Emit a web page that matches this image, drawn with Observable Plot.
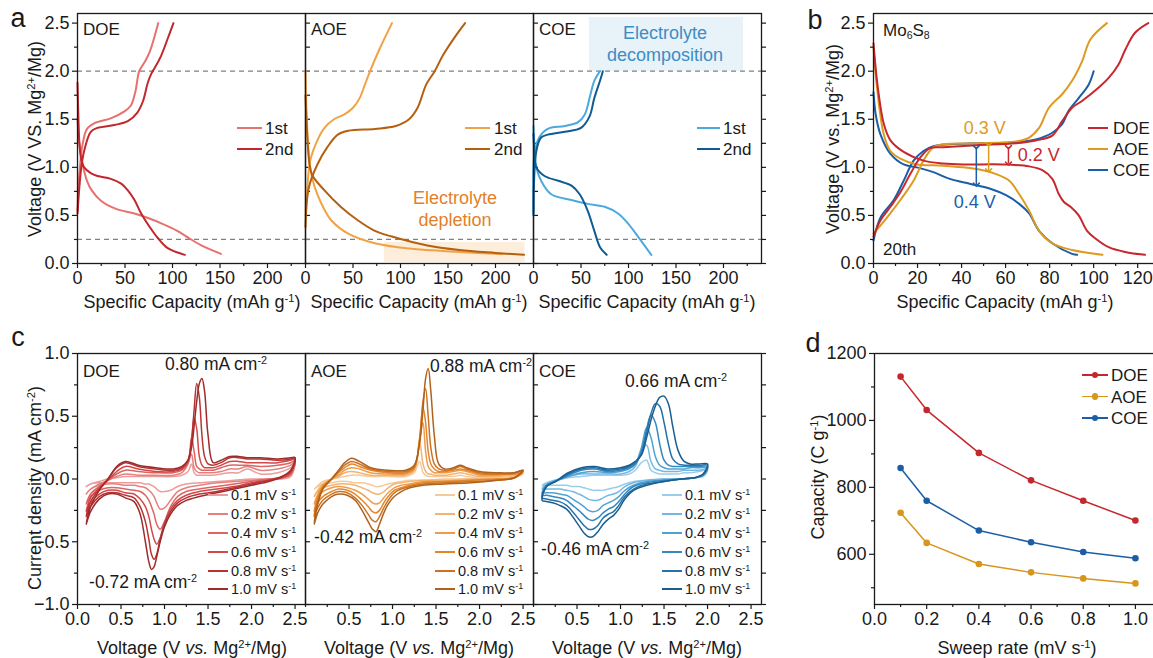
<!DOCTYPE html>
<html><head><meta charset="utf-8">
<script src="https://cdn.jsdelivr.net/npm/d3@7"></script>
<script src="https://cdn.jsdelivr.net/npm/@observablehq/plot@0.6"></script>
<style>
html,body{margin:0;padding:0;background:#fff;overflow:hidden;}
#fig{position:relative;width:1153px;height:658px;font-family:Arial,"Liberation Sans",Helvetica,sans-serif;color:#1a1a1a;overflow:hidden;background:#fff;}
.t{position:absolute;white-space:nowrap;line-height:1;}
.t sup{font-size:0.62em;vertical-align:0.55em;line-height:0;}
.t sub{font-size:0.62em;vertical-align:-0.3em;line-height:0;}
.p{position:absolute;}
.p svg{max-width:none;overflow:visible;display:block;}
.sw{position:absolute;}
</style></head><body><div id="fig"></div>
<script>
// ---------------- DATA ----------------
// Panel a: [specific capacity (mAh/g), voltage (V)]
const doeFirstDischarge = [[0,1.5],[1,1.36],[2,1.25],[5,1.05],[10,0.86],[15,0.76],[25,0.65],[40,0.57],[60,0.52],[75,0.47],[90,0.41],[105,0.34],[118,0.26],[132,0.18],[151,0.1]];
const doeSecondDischarge = [[0,1.88],[1,1.5],[2,1.25],[4,1.08],[7,1.0],[14,0.94],[21,0.91],[35,0.88],[46,0.83],[53,0.76],[60,0.66],[67,0.52],[76,0.38],[85,0.26],[95,0.16],[113,0.09]];
const doeFirstCharge = [[0,0.55],[1,0.8],[3,1.05],[5,1.22],[10,1.4],[18,1.46],[35,1.51],[49,1.58],[56,1.64],[61,1.79],[65,2.0],[71,2.1],[76,2.2],[85,2.5]];
const doeSecondCharge = [[0,0.52],[2,0.8],[4,1.0],[7,1.17],[14,1.37],[21,1.41],[39,1.44],[53,1.48],[63,1.57],[69,1.69],[74,1.88],[78,1.98],[81,2.03],[88,2.16],[95,2.34],[101,2.5]];
const aoeFirstDischarge = [[0,2.0],[1,1.6],[3,1.2],[5,1.0],[8,0.85],[12.5,0.72],[20,0.56],[27,0.45],[45,0.31],[73,0.21],[109,0.155],[162,0.12],[207,0.1]];
const aoeSecondDischarge = [[0,1.75],[2,1.3],[4,1.05],[7,0.92],[20,0.76],[37,0.59],[55,0.45],[73,0.34],[91,0.28],[127,0.19],[162,0.14],[200,0.11],[230,0.09]];
const aoeFirstCharge = [[0,0.5],[2,0.8],[5,1.07],[12.5,1.28],[20,1.41],[30,1.5],[41,1.55],[50,1.62],[57,1.72],[62.5,1.86],[68,2.0],[77,2.21],[91,2.5]];
const aoeSecondCharge = [[0,0.38],[3.5,0.79],[12.5,1.03],[23,1.21],[34,1.34],[45,1.38],[73,1.4],[95,1.43],[109,1.5],[118,1.62],[127,1.86],[136,2.0],[145,2.17],[159,2.38],[168,2.5]];
const coeFirstDischarge = [[0,1.43],[1,1.2],[3,1.0],[8,0.86],[18.6,0.72],[40,0.66],[57,0.62],[75,0.59],[89,0.52],[100,0.41],[110,0.28],[124,0.09]];
const coeSecondDischarge = [[0,1.35],[1,1.15],[3,1.0],[11.6,0.91],[26,0.86],[40,0.81],[48.6,0.72],[57,0.55],[64,0.34],[70,0.17],[77,0.09]];
const coeFirstCharge = [[0,0.53],[1,1.14],[6,1.31],[15,1.4],[33,1.43],[47,1.47],[54,1.55],[59,1.72],[64,1.9],[70,2.0]];
const coeSecondCharge = [[0,0.5],[3,1.17],[8,1.31],[15,1.34],[33,1.37],[50,1.41],[59,1.53],[64,1.72],[70,1.9],[73,2.0]];
const aGuideVoltages = [2.0, 0.25];
const depletionRegion = {cap: [83, 231], volt: [0.01, 0.22]};
const decompositionRegion = {cap: [59, 221], volt: [2.0, 2.56]};

// Panel b: 20th cycle
const doe20Discharge = [[0,2.29],[1.8,1.86],[4.7,1.45],[7.7,1.28],[13.7,1.16],[22.7,1.07],[31.7,1.04],[40.7,1.03],[58.7,1.03],[70.7,1.01],[76.7,0.97],[81.2,0.88],[84.2,0.72],[86.5,0.64],[89.5,0.59],[93.2,0.5],[97,0.34],[100.8,0.26],[106.8,0.17],[114.3,0.12],[123.3,0.09]];
const doe20Charge = [[0,0.28],[3.2,0.45],[7.7,0.59],[12.2,0.74],[16.7,0.93],[21.2,1.1],[25.7,1.2],[31.7,1.21],[46.7,1.23],[64.7,1.25],[73.7,1.28],[81.2,1.33],[85.7,1.48],[90.2,1.62],[94.7,1.69],[102.3,1.83],[106.8,1.93],[111.3,2.07],[114.3,2.22],[118.8,2.4],[124.8,2.5]];
const aoe20Discharge = [[0,2.25],[1.8,1.79],[4.7,1.34],[7.7,1.17],[12.2,1.09],[19.7,1.03],[30.2,1.02],[40.7,1.0],[49.7,0.97],[55.7,0.93],[61.7,0.86],[66.2,0.72],[70.7,0.55],[75.2,0.34],[81.2,0.21],[90.2,0.14],[104,0.09]];
const aoe20Charge = [[0,0.31],[6.2,0.48],[12.2,0.66],[18.2,0.86],[22.7,1.07],[27.2,1.21],[31.7,1.24],[46.7,1.25],[64.7,1.27],[70.7,1.31],[75.2,1.41],[79.7,1.62],[85.7,1.76],[90.2,1.9],[94.7,2.1],[98.5,2.33],[106,2.5]];
const coe20Discharge = [[0,1.78],[1,1.55],[3.2,1.34],[7.7,1.14],[13.7,1.03],[19.7,1.0],[27.2,0.95],[34.7,0.88],[43.7,0.83],[52.7,0.78],[60.2,0.71],[66.2,0.62],[70.7,0.52],[75.2,0.34],[81.2,0.21],[90.2,0.1],[92.5,0.09]];
const coe20Charge = [[0,0.24],[3.2,0.48],[9.2,0.66],[13.7,0.86],[18.2,1.07],[22.7,1.17],[27.2,1.22],[34.7,1.24],[46.7,1.25],[64.7,1.26],[73.7,1.29],[81.2,1.36],[85.7,1.45],[88.7,1.59],[93.2,1.72],[97.7,1.86],[100,2.0]];
// polarization gaps [capacity, upper V, lower V, label]
const gapCOE = [46.7, 1.21, 0.82, "0.4 V"];
const gapAOE = [52.3, 1.24, 0.97, "0.3 V"];
const gapDOE = [61.3, 1.21, 1.04, "0.2 V"];

// Panel c: cyclic voltammetry; rows = sweep rates 0.1,0.2,0.4,0.6,0.8,1.0 mV/s
const cvRates = ["0.1", "0.2", "0.4", "0.6", "0.8", "1.0"];
const doeAnodicV = [0.1,0.15,0.25,0.35,0.45,0.55,0.7,0.9,1.1,1.2,1.27,1.31,1.34,1.37,1.40,1.43,1.46,1.50,1.56,1.65,1.75,1.85,1.95,2.1,2.3,2.45,2.5];
const doeAnodicI = [
 [-0.06,-0.04,-0.02,0.00,0.01,0.02,0.02,0.02,0.02,0.03,0.06,0.12,0.05,0.03,0.03,0.03,0.03,0.03,0.03,0.04,0.05,0.05,0.08,0.04,0.05,0.09,0.13],
 [-0.12,-0.08,-0.04,-0.01,0.02,0.04,0.03,0.03,0.03,0.05,0.12,0.20,0.09,0.06,0.05,0.05,0.05,0.05,0.05,0.06,0.08,0.08,0.10,0.07,0.08,0.11,0.14],
 [-0.20,-0.12,-0.06,-0.01,0.04,0.07,0.06,0.05,0.05,0.07,0.13,0.33,0.22,0.10,0.08,0.07,0.07,0.07,0.07,0.09,0.11,0.11,0.11,0.10,0.11,0.13,0.15],
 [-0.26,-0.15,-0.07,-0.01,0.06,0.10,0.08,0.06,0.06,0.08,0.14,0.30,0.49,0.40,0.18,0.11,0.09,0.09,0.09,0.11,0.14,0.14,0.13,0.13,0.13,0.15,0.16],
 [-0.30,-0.18,-0.08,0.00,0.09,0.13,0.10,0.08,0.07,0.09,0.15,0.30,0.55,0.76,0.65,0.35,0.18,0.12,0.11,0.13,0.17,0.17,0.16,0.16,0.15,0.16,0.17],
 [-0.36,-0.22,-0.09,0.00,0.10,0.14,0.11,0.09,0.08,0.10,0.15,0.25,0.42,0.62,0.76,0.80,0.70,0.35,0.13,0.15,0.18,0.18,0.17,0.17,0.16,0.17,0.17]];
const doeCathodicV = [2.45,2.35,2.2,2.0,1.8,1.6,1.4,1.25,1.15,1.07,1.0,0.95,0.91,0.88,0.85,0.82,0.78,0.72,0.65,0.55,0.45,0.35,0.25,0.15];
const doeCathodicI = [
 [0.02,0.00,0.00,0.00,-0.01,-0.02,-0.03,-0.04,-0.06,-0.09,-0.10,-0.10,-0.08,-0.06,-0.05,-0.04,-0.04,-0.03,-0.03,-0.03,-0.03,-0.03,-0.03,-0.04],
 [0.03,0.01,0.00,-0.01,-0.02,-0.03,-0.05,-0.07,-0.10,-0.17,-0.23,-0.24,-0.19,-0.14,-0.11,-0.09,-0.07,-0.06,-0.05,-0.05,-0.04,-0.04,-0.05,-0.08],
 [0.04,0.01,0.00,-0.02,-0.04,-0.06,-0.08,-0.10,-0.14,-0.22,-0.34,-0.40,-0.36,-0.28,-0.22,-0.17,-0.13,-0.10,-0.09,-0.08,-0.07,-0.07,-0.09,-0.14],
 [0.05,0.01,-0.01,-0.03,-0.06,-0.08,-0.10,-0.13,-0.17,-0.24,-0.35,-0.47,-0.52,-0.48,-0.40,-0.30,-0.22,-0.16,-0.12,-0.11,-0.09,-0.09,-0.12,-0.19],
 [0.06,0.02,-0.01,-0.04,-0.07,-0.10,-0.12,-0.15,-0.19,-0.26,-0.36,-0.48,-0.60,-0.64,-0.60,-0.48,-0.34,-0.22,-0.15,-0.13,-0.11,-0.11,-0.14,-0.22],
 [0.07,0.02,-0.02,-0.05,-0.08,-0.11,-0.14,-0.17,-0.21,-0.28,-0.38,-0.50,-0.62,-0.70,-0.72,-0.66,-0.50,-0.28,-0.18,-0.15,-0.12,-0.12,-0.16,-0.26]];
const aoeAnodicV = [0.1,0.13,0.2,0.3,0.38,0.45,0.53,0.62,0.75,0.95,1.15,1.25,1.31,1.35,1.38,1.41,1.44,1.48,1.53,1.6,1.7,1.78,1.85,2.0,2.2,2.4,2.5];
const aoeAnodicI = [
 [-0.08,-0.06,-0.02,0.00,0.01,0.02,0.03,0.03,0.02,0.02,0.02,0.05,0.14,0.05,0.03,0.02,0.02,0.02,0.02,0.02,0.02,0.03,0.02,0.01,0.01,0.02,0.04],
 [-0.14,-0.10,-0.04,0.00,0.02,0.05,0.06,0.05,0.03,0.03,0.03,0.07,0.30,0.12,0.06,0.04,0.04,0.03,0.03,0.03,0.04,0.05,0.04,0.02,0.02,0.03,0.05],
 [-0.20,-0.14,-0.05,0.00,0.03,0.07,0.09,0.08,0.05,0.04,0.04,0.08,0.30,0.45,0.22,0.10,0.07,0.05,0.05,0.05,0.06,0.07,0.06,0.03,0.03,0.04,0.06],
 [-0.26,-0.17,-0.06,0.00,0.05,0.09,0.12,0.10,0.07,0.05,0.05,0.09,0.32,0.57,0.45,0.22,0.12,0.08,0.06,0.06,0.07,0.08,0.07,0.04,0.04,0.04,0.06],
 [-0.30,-0.20,-0.07,0.00,0.06,0.11,0.14,0.12,0.08,0.06,0.06,0.10,0.30,0.62,0.72,0.50,0.25,0.12,0.08,0.07,0.08,0.10,0.08,0.05,0.04,0.05,0.07],
 [-0.36,-0.23,-0.08,0.00,0.07,0.13,0.165,0.14,0.09,0.07,0.07,0.11,0.28,0.55,0.80,0.88,0.70,0.35,0.12,0.08,0.09,0.11,0.09,0.06,0.05,0.05,0.07]];
const aoeCathodicV = [2.4,2.2,1.9,1.6,1.35,1.2,1.1,1.02,0.95,0.9,0.85,0.81,0.77,0.72,0.65,0.57,0.48,0.38,0.3,0.2,0.14];
const aoeCathodicI = [
 [0.01,0.00,0.00,0.00,-0.01,-0.01,-0.02,-0.03,-0.04,-0.05,-0.06,-0.06,-0.05,-0.04,-0.03,-0.03,-0.02,-0.02,-0.03,-0.04,-0.06],
 [0.01,0.00,0.00,-0.01,-0.01,-0.02,-0.03,-0.04,-0.07,-0.10,-0.12,-0.12,-0.11,-0.09,-0.07,-0.05,-0.04,-0.04,-0.05,-0.07,-0.10],
 [0.01,0.00,-0.01,-0.02,-0.02,-0.04,-0.05,-0.07,-0.11,-0.15,-0.19,-0.20,-0.19,-0.16,-0.12,-0.09,-0.07,-0.06,-0.07,-0.10,-0.14],
 [0.01,0.00,-0.01,-0.02,-0.03,-0.05,-0.07,-0.09,-0.14,-0.19,-0.25,-0.27,-0.26,-0.22,-0.17,-0.12,-0.09,-0.08,-0.10,-0.14,-0.19],
 [0.01,-0.01,-0.02,-0.03,-0.04,-0.06,-0.08,-0.11,-0.17,-0.23,-0.30,-0.34,-0.33,-0.28,-0.21,-0.15,-0.11,-0.10,-0.12,-0.17,-0.23],
 [0.01,-0.01,-0.03,-0.04,-0.05,-0.07,-0.10,-0.14,-0.20,-0.27,-0.36,-0.42,-0.40,-0.34,-0.25,-0.17,-0.13,-0.12,-0.14,-0.20,-0.27]];
const coeAnodicV = [0.1,0.15,0.25,0.4,0.55,0.7,0.85,1.0,1.1,1.17,1.24,1.3,1.35,1.4,1.45,1.5,1.55,1.6,1.66,1.73,1.8,1.9,2.0];
const coeAnodicI = [
 [-0.05,-0.03,-0.01,0.01,0.02,0.03,0.03,0.03,0.04,0.07,0.13,0.15,0.07,0.05,0.04,0.04,0.04,0.04,0.04,0.05,0.05,0.06,0.07],
 [-0.08,-0.04,-0.01,0.02,0.04,0.04,0.04,0.04,0.06,0.10,0.22,0.27,0.14,0.08,0.07,0.06,0.06,0.06,0.06,0.07,0.07,0.07,0.08],
 [-0.11,-0.05,-0.02,0.02,0.05,0.06,0.05,0.06,0.08,0.12,0.25,0.41,0.33,0.18,0.11,0.09,0.08,0.08,0.08,0.08,0.09,0.09,0.09],
 [-0.13,-0.05,-0.02,0.03,0.07,0.08,0.06,0.07,0.09,0.12,0.22,0.40,0.51,0.45,0.28,0.15,0.11,0.10,0.10,0.10,0.10,0.10,0.10],
 [-0.15,-0.06,-0.02,0.04,0.08,0.09,0.07,0.08,0.10,0.13,0.20,0.37,0.52,0.60,0.58,0.45,0.28,0.16,0.12,0.11,0.11,0.11,0.11],
 [-0.17,-0.06,-0.02,0.05,0.09,0.10,0.08,0.09,0.11,0.14,0.19,0.33,0.47,0.58,0.65,0.66,0.60,0.42,0.23,0.14,0.12,0.12,0.12]];
const coeCathodicV = [1.95,1.85,1.7,1.5,1.3,1.15,1.05,0.98,0.92,0.86,0.8,0.74,0.68,0.63,0.58,0.52,0.45,0.38,0.3,0.22,0.15];
const coeCathodicI = [
 [0.02,0.01,0.00,0.00,-0.01,-0.02,-0.04,-0.06,-0.07,-0.08,-0.09,-0.09,-0.09,-0.08,-0.07,-0.06,-0.06,-0.05,-0.05,-0.05,-0.05],
 [0.03,0.01,0.00,0.00,-0.01,-0.03,-0.06,-0.10,-0.12,-0.13,-0.15,-0.17,-0.17,-0.16,-0.14,-0.12,-0.10,-0.09,-0.08,-0.08,-0.08],
 [0.03,0.01,0.00,-0.01,-0.02,-0.05,-0.09,-0.14,-0.17,-0.19,-0.21,-0.25,-0.26,-0.25,-0.22,-0.19,-0.16,-0.13,-0.12,-0.11,-0.11],
 [0.03,0.01,0.00,-0.01,-0.03,-0.06,-0.12,-0.18,-0.22,-0.24,-0.27,-0.31,-0.33,-0.32,-0.29,-0.25,-0.21,-0.17,-0.15,-0.14,-0.13],
 [0.04,0.01,0.00,-0.02,-0.04,-0.08,-0.14,-0.21,-0.26,-0.28,-0.31,-0.37,-0.40,-0.40,-0.37,-0.32,-0.26,-0.21,-0.18,-0.17,-0.16],
 [0.04,0.01,0.00,-0.02,-0.05,-0.09,-0.16,-0.24,-0.29,-0.32,-0.36,-0.42,-0.46,-0.46,-0.43,-0.37,-0.30,-0.24,-0.21,-0.19,-0.18]];

// Panel d: capacity vs sweep rate
const sweepRates = [0.1, 0.2, 0.4, 0.6, 0.8, 1.0];
const capacityDOE = [1131, 1031, 903, 821, 760, 701];
const capacityAOE = [724, 634, 571, 546, 528, 513];
const capacityCOE = [858, 760, 671, 636, 607, 588];

// ---------------- STYLE ----------------
const FONT = 'Arial, "Liberation Sans", Helvetica, sans-serif';
const C = {
  doe1: "#E7716F", doe2: "#C1272C", aoe1: "#F2A246", aoe2: "#B5600F", coe1: "#4CA9DE", coe2: "#0F5B92",
  doe: "#C6282E", aoe: "#DE9A1E", coe: "#1A5EA8", dAoe: "#D8951C", dCoe: "#1B5EA6", dDoe: "#C4282C"
};
const doeCvColors = ["#EC9C9A","#E5807E","#DD6462","#D14848","#B83434","#9E2C2C"];
const aoeCvColors = ["#F6C99A","#F2B474","#EE9C4A","#E2862C","#CC7220","#B0621C"];
const coeCvColors = ["#9ACDEB","#74B8E2","#50A2D4","#3588C0","#2472A8","#1A5E90"];
const fig = document.getElementById("fig");
const f1 = d3.format(".1f");
const blank = () => "";
const range = (a, b, s) => d3.range(a, b + s / 2, s).map(v => +v.toFixed(4));

function mount(svg, left, top) {
  const d = document.createElement("div");
  d.className = "p"; d.style.left = left + "px"; d.style.top = top + "px";
  d.appendChild(svg); fig.appendChild(d);
}
function panel(o) {
  const ML = 60, MR = 14, MT = 12, MB = 36;
  const marks = [...o.marks, Plot.frame({stroke: "#1a1a1a", strokeWidth: 1.3})];
  marks.push(Plot.axisX({ticks: o.xTicks, tickSize: 5, tickPadding: 3, tickFormat: o.xFmt, label: null, fontSize: 18, strokeWidth: 1.2}));
  if (o.xMinor) marks.push(Plot.axisX({ticks: o.xMinor, tickSize: 3, tickFormat: blank, label: null, strokeWidth: 1.2}));
  if (o.yTicks) marks.push(Plot.axisY({ticks: o.yTicks, tickSize: 5, tickPadding: 3, tickFormat: o.yFmt, label: null, fontSize: 18, strokeWidth: 1.2}));
  if (o.yMinor) marks.push(Plot.axisY({ticks: o.yMinor, tickSize: 3, tickFormat: blank, label: null, strokeWidth: 1.2}));
  if (o.rightTicks) marks.push(Plot.axisY({anchor: "right", ticks: o.rightTicks, tickSize: 4, tickFormat: blank, label: null, strokeWidth: 1.2}));
  const svg = Plot.plot({
    width: o.w + ML + MR, height: o.h + MT + MB,
    marginLeft: ML, marginRight: MR, marginTop: MT, marginBottom: MB,
    x: {domain: o.xd}, y: {domain: o.yd},
    style: {background: "transparent", fontFamily: FONT, fontSize: "18px", color: "#1a1a1a", overflow: "visible"},
    marks
  });
  mount(svg, o.left - ML, o.top - MT);
}
function txt(html, x, y, o = {}) {
  const d = document.createElement("div");
  d.className = "t"; d.innerHTML = html;
  d.style.left = x + "px"; d.style.top = y + "px";
  d.style.fontSize = (o.size || 18) + "px";
  if (o.color) d.style.color = o.color;
  const ax = o.anchor === "middle" ? "-50%" : o.anchor === "end" ? "-100%" : "0";
  d.style.transform = o.rotate ? `translate(-50%,-50%) rotate(${o.rotate}deg)` : `translate(${ax},-50%)`;
  fig.appendChild(d);
}
function swatch(x1, x2, y, color, w = 2, dot = false) {
  const d = document.createElement("div");
  d.className = "sw";
  Object.assign(d.style, {left: x1 + "px", top: (y - w / 2) + "px", width: (x2 - x1) + "px", height: w + "px", background: color});
  fig.appendChild(d);
  if (dot) {
    const c = document.createElement("div");
    c.className = "sw";
    Object.assign(c.style, {left: ((x1 + x2) / 2 - 3.3) + "px", top: (y - 3.3) + "px", width: "6.6px", height: "6.6px", borderRadius: "50%", background: color});
    fig.appendChild(c);
  }
}
const curve = (arr, color, w = 2) => Plot.line(arr, {x: d => d[0], y: d => d[1], stroke: color, strokeWidth: w, curve: "catmull-rom"});

// ---------------- PANEL a ----------------
const aLeft = [77, 305, 533];
const aCommon = {top: 13, w: 228, h: 250, xd: [0, 240], yd: [0, 2.6], xTicks: range(0, 200, 50), xMinor: range(25, 225, 50), rightTicks: range(0, 2.5, 0.25)};
const guides = Plot.ruleY(aGuideVoltages, {stroke: "#808080", strokeDasharray: "5,4", strokeWidth: 1.2});
panel({...aCommon, left: aLeft[0], yTicks: range(0, 2.5, 0.5), yMinor: range(0.25, 2.25, 0.5), yFmt: f1,
  marks: [guides, curve(doeFirstDischarge, C.doe1), curve(doeFirstCharge, C.doe1), curve(doeSecondDischarge, C.doe2), curve(doeSecondCharge, C.doe2)]});
panel({...aCommon, left: aLeft[1],
  marks: [Plot.rect([depletionRegion], {x1: d => d.cap[0], x2: d => d.cap[1], y1: d => d.volt[0], y2: d => d.volt[1], fill: "#FDEEDC"}),
    guides, curve(aoeFirstDischarge, C.aoe1), curve(aoeFirstCharge, C.aoe1), curve(aoeSecondDischarge, C.aoe2), curve(aoeSecondCharge, C.aoe2)]});
panel({...aCommon, left: aLeft[2],
  marks: [Plot.rect([decompositionRegion], {x1: d => d.cap[0], x2: d => d.cap[1], y1: d => d.volt[0], y2: d => d.volt[1], fill: "#E7F2F9"}),
    guides, curve(coeFirstDischarge, C.coe1), curve(coeFirstCharge, C.coe1), curve(coeSecondDischarge, C.coe2), curve(coeSecondCharge, C.coe2)]});

// ---------------- PANEL b ----------------
const gapMarks = [[gapCOE, C.coe], [gapAOE, C.aoe], [gapDOE, C.doe]].map(([g, col]) =>
  Plot.link([g], {x1: d => d[0], x2: d => d[0], y1: d => d[1], y2: d => d[2], stroke: col, strokeWidth: 1.5, markerStart: "arrow", markerEnd: "arrow"}));
panel({left: 873, top: 13, w: 284, h: 250, xd: [0, 129], yd: [0, 2.6],
  xTicks: range(0, 120, 20), xMinor: range(10, 110, 20), yTicks: range(0, 2.5, 0.5), yMinor: range(0.25, 2.25, 0.5), yFmt: f1,
  marks: [
    curve(coe20Discharge, C.coe), curve(coe20Charge, C.coe),
    curve(aoe20Discharge, C.aoe), curve(aoe20Charge, C.aoe),
    curve(doe20Discharge, C.doe), curve(doe20Charge, C.doe),
    ...gapMarks,
    Plot.text([gapAOE], {x: d => d[0] - 1.8, y: 1.41, text: d => d[3], fill: C.aoe, fontSize: 18, textAnchor: "middle"}),
    Plot.text([gapDOE], {x: d => d[0] + 4.2, y: 1.13, text: d => d[3], fill: C.doe, fontSize: 18, textAnchor: "start"}),
    Plot.text([gapCOE], {x: d => d[0] - 0.7, y: 0.64, text: d => d[3], fill: C.coe, fontSize: 18, textAnchor: "middle"})
  ]});

// ---------------- PANEL c ----------------
function cvLoops(anV, anI, caV, caI, colors) {
  return cvRates.map((rate, k) => {
    const pts = anV.map((v, i) => ({v, i: anI[k][i], rate}))
      .concat(caV.map((v, i) => ({v, i: caI[k][i], rate})));
    return Plot.line(pts, {x: "v", y: "i", stroke: colors[k], strokeWidth: 1.5, curve: "catmull-rom-closed"});
  });
}
const cCommon = {top: 353, w: 228, h: 251, xd: [0, 2.62], yd: [-1, 1], xFmt: f1, rightTicks: range(-1, 1, 0.25)};
panel({...cCommon, left: aLeft[0], xTicks: range(0, 2.5, 0.5), xMinor: range(0.25, 2.25, 0.5),
  yTicks: range(-1, 1, 0.5), yMinor: range(-0.75, 0.75, 0.5), yFmt: f1,
  marks: cvLoops(doeAnodicV, doeAnodicI, doeCathodicV, doeCathodicI, doeCvColors)});
panel({...cCommon, left: aLeft[1], xTicks: range(0.5, 2.5, 0.5), xMinor: [0, ...range(0.25, 2.25, 0.5)],
  marks: cvLoops(aoeAnodicV, aoeAnodicI, aoeCathodicV, aoeCathodicI, aoeCvColors)});
panel({...cCommon, left: aLeft[2], xTicks: range(0.5, 2.5, 0.5), xMinor: [0, ...range(0.25, 2.25, 0.5)],
  marks: cvLoops(coeAnodicV, coeAnodicI, coeCathodicV, coeCathodicI, coeCvColors)});

// ---------------- PANEL d ----------------
const dSeries = [[capacityDOE, C.dDoe], [capacityAOE, C.dAoe], [capacityCOE, C.dCoe]];
const dMarks = [];
for (const [vals, col] of dSeries) {
  const rows = sweepRates.map((r, i) => ({r, c: vals[i]}));
  dMarks.push(Plot.line(rows, {x: "r", y: "c", stroke: col, strokeWidth: 1.5}));
  dMarks.push(Plot.dot(rows, {x: "r", y: "c", fill: col, r: 3.3}));
}
panel({left: 874, top: 353, w: 287, h: 251, xd: [0, 1.1], yd: [450, 1200],
  xTicks: range(0, 1, 0.2), xMinor: range(0.1, 0.9, 0.2), xFmt: f1,
  yTicks: range(600, 1200, 200), yMinor: range(500, 1100, 200), yFmt: d3.format("d"), marks: dMarks});

// ---------------- TEXT ----------------
txt("a", 18, 18, {size: 27, anchor: "middle"});
txt("b", 815, 20, {size: 27, anchor: "middle"});
txt("c", 18, 337, {size: 27, anchor: "middle"});
txt("d", 813, 343, {size: 27, anchor: "middle"});

txt("Voltage (V VS. Mg<sup>2+</sup>/Mg)", 35, 139, {rotate: -90});
txt("Voltage (V vs. Mg<sup>2+</sup>/Mg)", 833, 139, {rotate: -90});
txt("Current density (mA cm<sup>-2</sup>)", 35, 488, {rotate: -90});
txt("Capacity (C g<sup>-1</sup>)", 818, 477, {rotate: -90});
for (const cx of [192, 419, 647]) {
  txt("Specific Capacity (mAh g<sup>-1</sup>)", cx, 302, {anchor: "middle"});
  txt("Voltage (V <i>vs.</i> Mg<sup>2+</sup>/Mg)", cx, 648, {anchor: "middle"});
}
txt("Specific Capacity (mAh g<sup>-1</sup>)", 1005, 302, {anchor: "middle"});
txt("Sweep rate (mV s<sup>-1</sup>)", 1017, 648, {anchor: "middle"});

// panel a labels & legends
const names = ["DOE", "AOE", "COE"];
names.forEach((n, i) => { txt(n, aLeft[i] + 6, 29, {size: 17}); txt(n, aLeft[i] + 6, 371, {size: 17}); });
const aLeg = [[237, 262, 265, C.doe1, C.doe2], [465, 490, 494, C.aoe1, C.aoe2], [697, 720, 723, C.coe1, C.coe2]];
for (const [x1, x2, tx, c1, c2] of aLeg) {
  swatch(x1, x2, 128, c1); txt("1st", tx, 128, {size: 17});
  swatch(x1, x2, 149, c2); txt("2nd", tx, 149, {size: 17});
}
txt("Electrolyte", 455, 198, {size: 18, anchor: "middle", color: "#E47F2A"});
txt("depletion", 455, 220, {size: 18, anchor: "middle", color: "#E47F2A"});
txt("Electrolyte", 665, 33, {size: 18, anchor: "middle", color: "#3D8DC4"});
txt("decomposition", 665, 55, {size: 18, anchor: "middle", color: "#3D8DC4"});

// panel b labels & legend
txt("Mo<sub>6</sub>S<sub>8</sub>", 883, 30, {size: 17});
txt("20th", 883, 249, {size: 17});
[["DOE", C.doe], ["AOE", C.aoe], ["COE", C.coe]].forEach(([n, col], i) => {
  swatch(1088, 1108, 128 + 21 * i, col); txt(n, 1113, 128 + 21 * i, {size: 17});
});

// panel c annotations & legends
txt("0.80 mA cm<sup>-2</sup>", 216, 365, {size: 17.5, anchor: "middle"});
txt("-0.72 mA cm<sup>-2</sup>", 143, 583, {size: 17.5, anchor: "middle"});
txt("0.88 mA cm<sup>-2</sup>", 430, 367, {size: 17.5});
txt("-0.42 mA cm<sup>-2</sup>", 368, 538, {size: 17.5, anchor: "middle"});
txt("0.66 mA cm<sup>-2</sup>", 676, 382, {size: 17.5, anchor: "middle"});
txt("-0.46 mA cm<sup>-2</sup>", 595, 550, {size: 17.5, anchor: "middle"});
const cLegX = [[208, 228, 231, doeCvColors], [435, 455, 458, aoeCvColors], [662, 682, 685, coeCvColors]];
const cRows = [495, 514, 533, 552, 571, 589];
for (const [x1, x2, tx, cols] of cLegX) {
  cvRates.forEach((r, k) => { swatch(x1, x2, cRows[k], cols[k], 1.6); txt(r + " mV s<sup>-1</sup>", tx, cRows[k], {size: 14.5}); });
}

// panel d legend
[["DOE", C.dDoe], ["AOE", C.dAoe], ["COE", C.dCoe]].forEach(([n, col], i) => {
  swatch(1082, 1108, 375 + 21.5 * i, col, 1.6, true); txt(n, 1111, 375 + 21.5 * i, {size: 17});
});
</script></body></html>
